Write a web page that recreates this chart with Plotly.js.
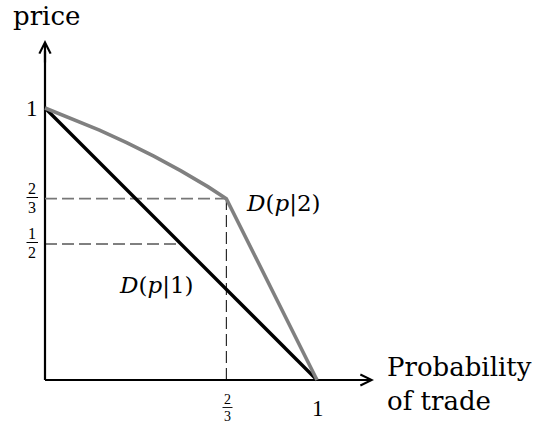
<!DOCTYPE html>
<html>
<head>
<meta charset="utf-8">
<script src="https://cdn.plot.ly/plotly-3.0.1.min.js"></script>
<style>html,body{margin:0;padding:0;background:#fff;}#chart{width:543px;height:425px;}</style>
</head>
<body>
<div id="chart"></div>
<script>
// Data
var demand1X = [0, 1];
var demand1Y = [1, 0];
var demand2X = [0, 0.1, 0.2, 0.3, 0.4, 0.5, 0.6, 2/3, 1];
var demand2Y = [1, 0.961, 0.919, 0.873, 0.823, 0.769, 0.710, 2/3, 0];
var guide23HX = [0, 2/3];
var guide23HY = [2/3, 2/3];
var guide12HX = [0, 0.5];
var guide12HY = [0.5, 0.5];
var guide23VX = [2/3, 2/3];
var guide23VY = [0, 2/3];
var xAxisX = [0, 1.17];
var xAxisY = [0, 0];
var yAxisX = [0, 0];
var yAxisY = [0, 1.21];

// Layout geometry (pixel mapping)
var W = 543, H = 425, S = 272, OX = 45, OY = 380;
var ml = 30, mr = 160, mt = 34, mb = 30;
var xr = [(ml - OX) / S, (W - mr - OX) / S];
var yr = [(OY - (H - mb)) / S, (OY - mt) / S];
function dx(px) { return (px - OX) / S; }
function dy(py) { return (OY - py) / S; }
function pxp(px) { return (px - ml) / (W - ml - mr); }
function pyp(py) { return (H - mb - py) / (H - mt - mb); }

var serif = '"Liberation Serif", serif';
var wide = '"DejaVu Serif", serif';

var traces = [
  {x: xAxisX, y: xAxisY, mode: 'lines', line: {color: '#000', width: 2.2}, hoverinfo: 'skip'},
  {x: yAxisX, y: yAxisY, mode: 'lines', line: {color: '#000', width: 2.2}, hoverinfo: 'skip'},
  {x: guide23HX, y: guide23HY, mode: 'lines', line: {color: '#777', width: 1.6, dash: '12px,5px'}, hoverinfo: 'skip'},
  {x: guide12HX, y: guide12HY, mode: 'lines', line: {color: '#000', width: 1, dash: '12px,5px'}, hoverinfo: 'skip'},
  {x: guide23VX, y: guide23VY, mode: 'lines', line: {color: '#000', width: 1, dash: '12px,5px'}, hoverinfo: 'skip'},
  {x: demand1X, y: demand1Y, mode: 'lines', line: {color: '#000', width: 3.4}, hoverinfo: 'skip'},
  {x: demand2X, y: demand2Y, mode: 'lines', line: {color: '#808080', width: 3.6, shape: 'linear'}, hoverinfo: 'skip'}
];

function txt(text, px, py, size, xa, ya, extra, fam) {
  var a = {text: text, x: pxp(px), y: pyp(py), xref: 'paper', yref: 'paper', showarrow: false,
    xanchor: xa || 'center', yanchor: ya || 'middle',
    font: {family: fam || serif, size: size, color: '#000'}};
  if (extra) for (var k in extra) a[k] = extra[k];
  return a;
}

var annotations = [
  // axis arrowheads
  {x: dx(374), y: 0, ax: dx(350), ay: 0, xref: 'x', yref: 'y', axref: 'x', ayref: 'y', text: '',
   showarrow: true, arrowhead: 5, arrowsize: 1, arrowwidth: 2.2, arrowcolor: '#000'},
  {x: 0, y: dy(40), ax: 0, ay: dy(64), xref: 'x', yref: 'y', axref: 'x', ayref: 'y', text: '',
   showarrow: true, arrowhead: 5, arrowsize: 1, arrowwidth: 2.2, arrowcolor: '#000'},
  txt('price', 46, 16, 26, 'center', 'middle', null, wide),
  txt('Probability<br>of trade', 385, 384, 26, 'left', 'middle', {align: 'left'}, wide),
  txt('1', 32, 108, 23),
  txt('1', 318, 408, 23),
  // y fraction 2/3
  txt('2', 32, 197, 16, 'center', 'bottom', {yshift: -2}),
  txt('3', 32, 198, 16, 'center', 'top', {yshift: 1}),
  // y fraction 1/2
  txt('1', 32, 242, 16, 'center', 'bottom', {yshift: -2}),
  txt('2', 32, 243, 16, 'center', 'top', {yshift: 1}),
  // x fraction 2/3
  txt('2', 227.5, 407, 14, 'center', 'bottom', {yshift: -2}),
  txt('3', 227.5, 408, 14, 'center', 'top', {yshift: 1}),
  txt('<i>D</i>(<i>p</i>|2)', 244, 204, 23, 'left', 'middle', null, wide),
  txt('<i>D</i>(<i>p</i>|1)', 117, 285, 23, 'left', 'middle', null, wide)
];

var shapes = [
  {type: 'line', xref: 'paper', yref: 'paper', x0: pxp(26.5), x1: pxp(38), y0: pyp(197.5), y1: pyp(197.5), line: {color: '#000', width: 1}},
  {type: 'line', xref: 'paper', yref: 'paper', x0: pxp(26.5), x1: pxp(38), y0: pyp(242.5), y1: pyp(242.5), line: {color: '#000', width: 1}},
  {type: 'line', xref: 'paper', yref: 'paper', x0: pxp(222.5), x1: pxp(232.5), y0: pyp(407.5), y1: pyp(407.5), line: {color: '#000', width: 0.9}}
];

var layout = {
  width: W, height: H,
  margin: {l: ml, r: mr, t: mt, b: mb, pad: 0},
  paper_bgcolor: '#fff', plot_bgcolor: '#fff',
  showlegend: false,
  xaxis: {range: xr, visible: false, fixedrange: true},
  yaxis: {range: yr, visible: false, fixedrange: true},
  annotations: annotations,
  shapes: shapes
};

Plotly.newPlot('chart', traces, layout, {staticPlot: true, displayModeBar: false});
</script>
</body>
</html>
